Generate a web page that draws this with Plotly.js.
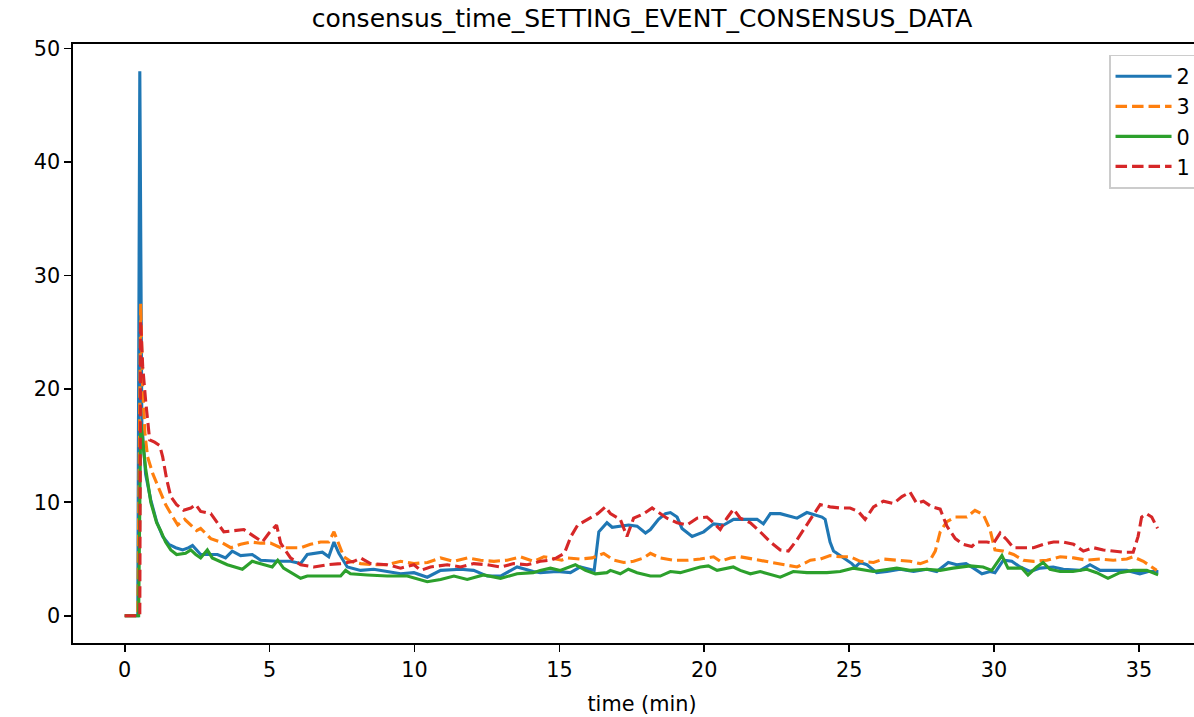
<!DOCTYPE html>
<html>
<head>
<meta charset="utf-8">
<script src="https://cdn.plot.ly/plotly-3.0.1.min.js"></script>
<style>
html, body { margin: 0; padding: 0; overflow: hidden; background: #fff; }
#chart { width: 1240px; height: 717px; }
</style>
</head>
<body>
<div id="chart"></div>
<script>
// series "2"
const t2 = [0, 0.45, 0.52, 0.59, 0.72, 0.90, 1.10, 1.31, 1.52, 1.76, 2.00, 2.21, 2.34, 2.48, 2.62, 3.20, 3.48, 3.71, 4.00, 4.40, 4.69, 5.27, 5.72, 6.07, 6.30, 6.82, 7.04, 7.22, 7.39, 7.68, 8.14, 8.59, 9.06, 9.52, 9.98, 10.44, 10.90, 11.59, 12.04, 12.51, 12.97, 13.54, 14.10, 14.34, 14.92, 15.38, 15.72, 16.13, 16.20, 16.36, 16.64, 16.82, 17.10, 17.39, 17.68, 17.97, 18.14, 18.42, 18.66, 18.83, 19.06, 19.23, 19.58, 19.98, 20.32, 20.67, 21.01, 21.36, 21.82, 22.04, 22.28, 22.62, 23.20, 23.54, 23.77, 24.06, 24.17, 24.34, 24.46, 24.80, 25.09, 25.21, 25.38, 25.61, 25.95, 26.30, 26.76, 27.22, 27.68, 28.02, 28.42, 28.71, 29.03, 29.29, 29.58, 29.86, 30.03, 30.32, 30.61, 30.90, 31.24, 31.59, 32.04, 32.39, 32.97, 33.31, 33.66, 34.11, 34.58, 35.03, 35.32, 35.67];
const v2 = [0, 0, 48, 17, 12.5, 10.2, 8.3, 7.0, 6.3, 6.0, 5.8, 6.0, 6.2, 5.8, 5.4, 5.4, 5.1, 5.7, 5.3, 5.4, 4.9, 4.8, 4.8, 4.6, 5.4, 5.6, 5.2, 6.5, 5.5, 4.3, 4.0, 4.1, 3.9, 3.7, 3.8, 3.4, 4.0, 4.1, 4.0, 3.5, 3.5, 4.3, 3.9, 3.8, 3.9, 3.8, 4.3, 4.0, 4.0, 7.4, 8.2, 7.8, 7.9, 8.0, 7.9, 7.3, 7.6, 8.5, 9.0, 9.1, 8.7, 7.7, 7.0, 7.4, 8.1, 8.0, 8.5, 8.5, 8.5, 8.1, 9.0, 9.0, 8.6, 9.1, 8.9, 8.7, 8.5, 6.5, 5.7, 5.1, 4.6, 4.3, 4.7, 4.5, 3.8, 3.9, 4.1, 3.9, 4.1, 3.9, 4.7, 4.5, 4.6, 4.2, 3.7, 3.9, 3.8, 4.9, 4.8, 4.3, 3.9, 4.2, 4.3, 4.1, 4.0, 4.5, 4.0, 4.0, 4.0, 3.7, 3.9, 3.9];

// series "3"
const t3 = [0, 0.45, 0.55, 0.62, 0.70, 0.79, 0.97, 1.17, 1.41, 1.59, 1.83, 2.07, 2.28, 2.48, 2.62, 2.97, 3.31, 3.66, 4.00, 4.34, 4.69, 5.03, 5.38, 5.72, 6.07, 6.41, 6.76, 7.04, 7.22, 7.39, 7.56, 7.79, 8.14, 8.60, 9.06, 9.52, 9.98, 10.45, 10.90, 11.36, 11.82, 12.28, 12.74, 13.20, 13.66, 14.11, 14.46, 14.69, 15.08, 15.27, 15.72, 16.13, 16.53, 16.87, 17.22, 17.56, 17.91, 18.14, 18.48, 18.94, 19.45, 19.86, 20.32, 20.55, 20.90, 21.24, 21.70, 22.16, 22.62, 23.20, 23.66, 24.00, 24.34, 24.69, 25.03, 25.38, 25.84, 26.18, 26.64, 27.10, 27.45, 27.79, 27.97, 28.14, 28.37, 28.66, 29.06, 29.34, 29.63, 29.86, 30.03, 30.32, 30.67, 31.01, 31.36, 31.82, 32.28, 32.74, 33.20, 33.66, 34.11, 34.58, 34.80, 35.15, 35.44, 35.61];
const v3 = [0, 0, 27.5, 20, 16, 14, 12.5, 11.2, 9.8, 9.0, 8.0, 8.5, 8.0, 7.5, 7.7, 6.8, 6.5, 6.0, 6.3, 6.5, 6.4, 6.4, 6.0, 6.0, 6.0, 6.3, 6.5, 6.5, 7.4, 6.3, 5.2, 4.8, 4.6, 4.5, 4.5, 4.8, 4.6, 4.7, 5.1, 4.8, 5.1, 4.9, 4.8, 4.9, 5.2, 4.8, 5.2, 5.1, 4.9, 5.1, 5.0, 5.1, 5.5, 4.9, 4.7, 4.8, 5.1, 5.5, 5.1, 4.9, 4.9, 5.0, 5.2, 4.8, 5.1, 5.2, 5.0, 4.8, 4.6, 4.3, 4.9, 5.0, 5.3, 5.2, 5.2, 4.8, 4.7, 5.0, 4.9, 4.8, 4.6, 4.9, 5.7, 7.4, 8.3, 8.7, 8.7, 9.3, 8.9, 7.6, 5.8, 5.7, 5.4, 4.9, 4.8, 4.9, 5.2, 5.1, 4.9, 5.0, 4.9, 5.0, 5.2, 4.8, 4.3, 4.0];

// series "0"
const t0 = [0, 0.48, 0.55, 0.72, 0.90, 1.10, 1.24, 1.41, 1.59, 1.79, 2.10, 2.28, 2.45, 2.62, 2.85, 3.02, 3.54, 4.06, 4.40, 4.79, 5.09, 5.28, 5.48, 6.07, 6.30, 6.76, 7.45, 7.62, 7.79, 8.37, 9.06, 9.75, 10.44, 10.90, 11.36, 11.82, 12.38, 12.97, 13.54, 14.10, 14.34, 14.69, 15.03, 15.55, 15.90, 16.24, 16.64, 16.76, 17.10, 17.38, 17.68, 18.14, 18.48, 18.83, 19.17, 19.86, 20.14, 20.44, 21.00, 21.24, 21.59, 21.93, 22.62, 23.07, 23.54, 24.23, 24.69, 25.14, 25.38, 25.83, 26.64, 27.10, 27.68, 28.14, 28.58, 29.17, 29.62, 29.92, 30.27, 30.48, 30.96, 31.17, 31.47, 31.69, 31.93, 32.28, 32.72, 33.20, 33.54, 33.93, 34.34, 34.79, 35.27, 35.66];
const v0 = [0, 0, 17, 13, 10, 8.2, 7.5, 6.5, 5.8, 5.4, 5.5, 5.8, 5.4, 5.1, 5.8, 5.1, 4.5, 4.1, 4.8, 4.5, 4.3, 4.9, 4.2, 3.3, 3.5, 3.5, 3.5, 4.0, 3.7, 3.6, 3.5, 3.5, 3.0, 3.2, 3.5, 3.2, 3.6, 3.3, 3.7, 3.8, 4.0, 4.2, 4.0, 4.5, 4.0, 3.7, 3.8, 4.0, 3.7, 4.1, 3.8, 3.5, 3.5, 3.9, 3.8, 4.3, 4.4, 4.0, 4.3, 4.0, 3.7, 3.9, 3.4, 3.9, 3.8, 3.8, 3.9, 4.2, 4.1, 3.9, 4.2, 4.0, 4.1, 4.0, 4.2, 4.4, 4.3, 4.0, 5.3, 4.2, 4.2, 3.6, 4.3, 4.7, 4.1, 3.9, 3.9, 4.1, 3.8, 3.3, 3.8, 4.0, 4.0, 3.6];

// series "1"
const t1 = [0, 0.52, 0.55, 0.62, 0.72, 0.86, 1.03, 1.21, 1.31, 1.45, 1.59, 1.79, 2.03, 2.28, 2.45, 2.62, 2.97, 3.20, 3.42, 3.77, 4.11, 4.46, 4.75, 4.98, 5.24, 5.38, 5.72, 6.07, 6.53, 6.99, 7.45, 7.91, 8.14, 8.48, 9.06, 9.52, 9.98, 10.21, 10.55, 11.13, 11.59, 12.04, 12.51, 12.97, 13.42, 13.89, 14.34, 14.69, 14.90, 15.17, 15.40, 15.63, 15.98, 16.32, 16.59, 16.76, 17.10, 17.33, 17.56, 17.91, 18.20, 18.48, 18.71, 19.06, 19.40, 19.75, 20.09, 20.32, 20.55, 20.78, 21.01, 21.24, 21.59, 21.93, 22.28, 22.62, 22.90, 23.20, 23.42, 23.66, 24.00, 24.34, 24.69, 25.03, 25.31, 25.55, 25.84, 26.18, 26.53, 26.82, 27.10, 27.33, 27.56, 27.85, 28.14, 28.37, 28.66, 28.94, 29.23, 29.40, 29.75, 29.98, 30.21, 30.44, 30.67, 31.01, 31.36, 31.70, 32.05, 32.39, 32.74, 33.08, 33.43, 33.77, 34.11, 34.46, 34.80, 34.97, 35.09, 35.26, 35.44, 35.56, 35.64];
const v1 = [0, 0, 26, 22, 19, 15.5, 15.3, 15.0, 14, 12, 10.5, 9.8, 9.3, 9.5, 9.8, 9.2, 9.0, 8.2, 7.4, 7.5, 7.6, 7.0, 6.5, 7.3, 8.0, 6.4, 5.1, 4.5, 4.3, 4.5, 4.6, 4.8, 5.1, 4.6, 4.5, 4.2, 4.5, 4.0, 4.3, 4.5, 4.3, 4.6, 4.5, 4.3, 4.6, 4.5, 4.8, 4.9, 5.1, 5.5, 7.0, 8.0, 8.5, 9.0, 9.6, 9.0, 8.5, 7.0, 8.6, 9.0, 9.5, 9.0, 8.6, 8.2, 8.0, 8.6, 8.7, 8.2, 7.6, 8.6, 9.4, 8.6, 8.2, 7.4, 6.5, 5.8, 5.7, 6.7, 7.6, 8.5, 9.8, 9.6, 9.5, 9.5, 9.2, 8.5, 9.6, 10.1, 9.9, 10.5, 10.9, 9.9, 10.1, 9.6, 9.4, 7.9, 6.8, 6.3, 6.1, 6.5, 6.5, 6.4, 7.3, 6.7, 6.0, 6.0, 6.0, 6.3, 6.5, 6.5, 6.3, 5.7, 6.0, 5.8, 5.7, 5.6, 5.6, 7.0, 8.7, 9.0, 8.7, 8.0, 7.7];

const seriesNames = ["2", "3", "0", "1"];
const seriesX = [t2, t3, t0, t1];
const seriesY = [v2, v3, v0, v1];
const colors = ["#1f77b4", "#ff7f0e", "#2ca02c", "#d62728"];
const dashes = ["solid", "11.5px,5px", "solid", "11.5px,5px"];

const traces = seriesNames.map((n, i) => ({
  x: seriesX[i], y: seriesY[i], name: n, type: "scatter", mode: "lines",
  line: { color: colors[i], width: 3.1, dash: dashes[i] }
}));

const FONT = "DejaVu Sans, sans-serif";
const axisCommon = {
  showgrid: false, zeroline: false, showline: true, mirror: true,
  linecolor: "#000", linewidth: 1.7, ticks: "outside", ticklen: 7,
  tickwidth: 1.7, tickcolor: "#000",
  tickfont: { family: FONT, size: 20.8, color: "#000" }
};

const layout = {
  width: 1240, height: 717,
  margin: { l: 73, r: 29, t: 44, b: 74 },
  paper_bgcolor: "#fff", plot_bgcolor: "#fff",
  title: { text: "consensus_time_SETTING_EVENT_CONSENSUS_DATA", font: { family: FONT, size: 25, color: "#000" },
           x: 0.5, xref: "paper", xanchor: "center", y: 0.975, yref: "container", yanchor: "middle" },
  xaxis: Object.assign({}, axisCommon, {
    range: [-1.785, 37.485], tickmode: "linear", tick0: 0, dtick: 5,
    title: { text: "time (min)", font: { family: FONT, size: 20.8, color: "#000" }, standoff: 16 },
    automargin: false
  }),
  yaxis: Object.assign({}, axisCommon, {
    range: [-2.4, 50.4], tickmode: "linear", tick0: 0, dtick: 10, automargin: false
  }),
  showlegend: true,
  legend: {
    x: 0.9104, xanchor: "left", y: 0.982, yanchor: "top",
    bgcolor: "rgba(255,255,255,0.8)", bordercolor: "#cccccc", borderwidth: 1.5,
    font: { family: FONT, size: 20.8, color: "#000" },
    tracegroupgap: 0, itemwidth: 56
  }
};

Plotly.newPlot("chart", traces, layout, { displayModeBar: false, staticPlot: true });
</script>
</body>
</html>
